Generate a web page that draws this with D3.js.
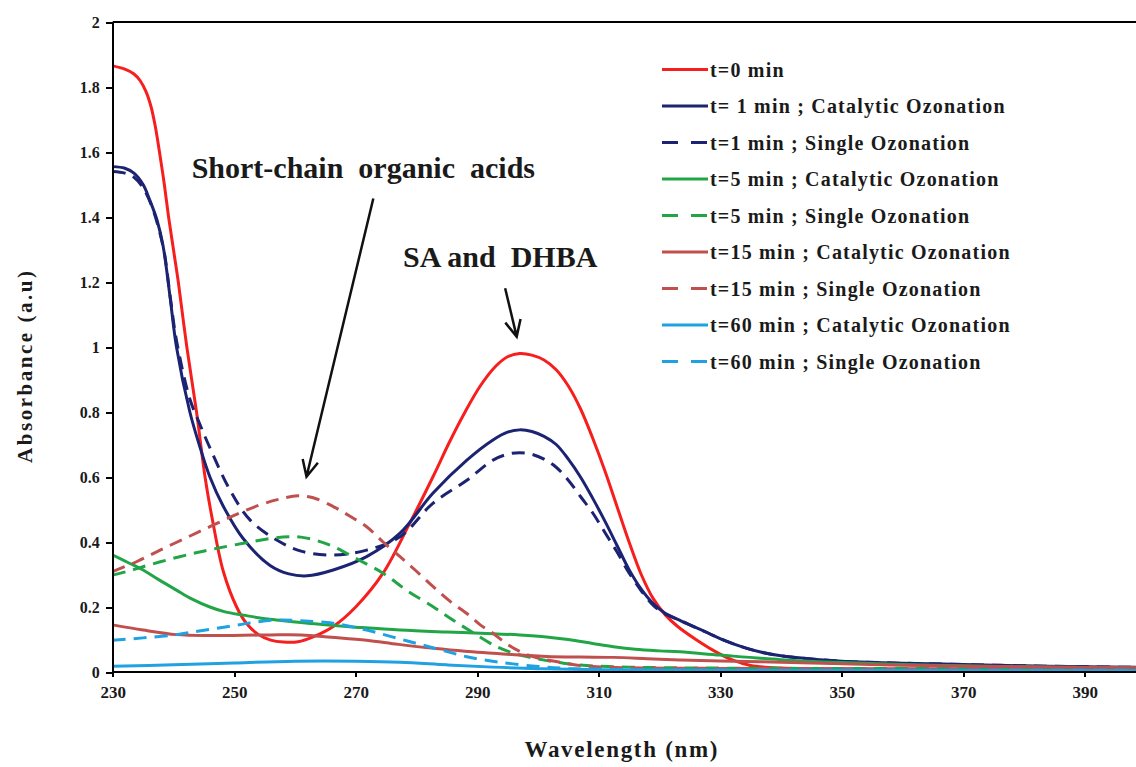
<!DOCTYPE html>
<html>
<head>
<meta charset="utf-8">
<script src="https://d3js.org/d3.v7.min.js"></script>
<style>
body { margin: 0; background: #fff; }
svg text { font-family: "Liberation Serif", "Times New Roman", serif; font-weight: bold; fill: #1a1a1a; }
.axis path, .axis line { stroke: #000; stroke-width: 2; shape-rendering: crispEdges; }
</style>
</head>
<body>
<svg id="chart" width="1136" height="767"></svg>
<script>
// spectra, [wavelength nm, absorbance]
var t0 = [[230,1.865],[232,1.855],[233.5,1.84],[234.5,1.82],[235.5,1.785],[236.3,1.74],[237,1.68],[237.7,1.6],[238.5,1.5],[239.2,1.4],[240,1.3],[240.8,1.2],[242.2,1.0],[243.8,0.8],[245.2,0.6],[246.4,0.47],[248.2,0.31],[250.4,0.2],[252,0.15],[254,0.115],[256,0.098],[258.1,0.092],[260.5,0.093],[263,0.108],[266.3,0.14],[270,0.2],[274.5,0.304],[278.9,0.458],[282.7,0.6],[285.5,0.71],[288,0.8],[290.5,0.88],[293,0.94],[295,0.97],[297,0.98],[299,0.975],[301,0.96],[303,0.93],[305,0.88],[307,0.81],[309,0.72],[311,0.62],[313,0.51],[315,0.4],[317,0.3],[319,0.225],[321,0.175],[323,0.14],[326,0.1],[329,0.065],[332,0.037],[335,0.02],[340,0.012],[360,0.009],[400,0.008]];
var t1Cat = [[230,1.555],[232,1.55],[233.5,1.535],[235,1.5],[236.1,1.452],[237.3,1.39],[238.3,1.31],[239.4,1.16],[240.5,1.0],[242.7,0.8],[244.4,0.69],[246,0.6],[248.2,0.51],[251.5,0.41],[255.9,0.328],[259,0.302],[262,0.296],[266.3,0.314],[271.8,0.355],[277.3,0.427],[282.7,0.55],[288.3,0.652],[292.6,0.714],[295,0.738],[297,0.745],[299,0.74],[301,0.725],[303,0.7],[305,0.655],[307,0.6],[309,0.535],[311,0.465],[313,0.39],[315,0.315],[317,0.255],[319,0.21],[321,0.18],[323,0.162],[325,0.145],[328,0.12],[331,0.095],[334,0.075],[337,0.06],[340,0.05],[345,0.04],[350,0.033],[360,0.027],[370,0.023],[380,0.019],[390,0.016],[400,0.014]];
var t1Single = [[230,1.54],[232,1.535],[233.5,1.522],[235,1.49],[236.5,1.43],[237.5,1.37],[238.5,1.29],[239.5,1.15],[240.5,1.02],[242.7,0.84],[244.4,0.76],[246,0.69],[249.3,0.56],[252.6,0.468],[257,0.406],[261,0.372],[266.3,0.36],[271.8,0.375],[277.3,0.416],[282.7,0.519],[288.3,0.59],[292.6,0.652],[295,0.67],[297,0.675],[299,0.67],[301,0.655],[303,0.63],[305,0.59],[307,0.54],[309,0.49],[311,0.43],[313,0.37],[315,0.305],[317,0.25],[319,0.205],[321,0.178],[323,0.162],[325,0.145],[328,0.12],[331,0.095],[334,0.075],[337,0.06],[340,0.05],[345,0.04],[350,0.033],[360,0.027],[370,0.023],[380,0.019],[390,0.016],[400,0.014]];
var t5Cat = [[230,0.36],[232.5,0.337],[235,0.314],[237.5,0.285],[240.5,0.252],[243,0.225],[246,0.2],[248.5,0.185],[251.5,0.175],[254,0.167],[257,0.16],[261,0.152],[265,0.145],[270,0.138],[277.3,0.129],[285,0.123],[292.6,0.118],[297,0.114],[301.4,0.108],[305,0.1],[309,0.088],[312.4,0.078],[316,0.07],[320,0.065],[323.4,0.062],[330,0.052],[340,0.038],[350,0.029],[360,0.023],[370,0.019],[380,0.016],[390,0.014],[400,0.013]];
var t5Single = [[230,0.298],[232.5,0.31],[235,0.324],[239,0.345],[243.3,0.365],[247,0.38],[251.5,0.396],[255.9,0.411],[259,0.416],[261,0.415],[263.5,0.405],[266.3,0.386],[270,0.35],[274.5,0.304],[278.5,0.25],[282.8,0.2],[286,0.16],[289.4,0.12],[293.2,0.078],[296,0.058],[298.7,0.045],[301.5,0.035],[304.2,0.027],[308,0.02],[315,0.015],[330,0.012],[400,0.01]];
var t15Cat = [[230,0.145],[235,0.129],[240.5,0.115],[246,0.112],[251.5,0.113],[256,0.114],[261,0.114],[266,0.107],[271.8,0.098],[277,0.085],[282.8,0.073],[288,0.064],[292.6,0.058],[297,0.052],[301.4,0.048],[307,0.046],[312.4,0.045],[318,0.041],[323.4,0.037],[330,0.034],[340,0.03],[350,0.025],[360,0.021],[370,0.018],[380,0.016],[390,0.014],[400,0.013]];
var t15Single = [[230,0.309],[234,0.34],[237.8,0.375],[242,0.412],[246,0.447],[250,0.482],[254.2,0.514],[257.5,0.532],[260.5,0.542],[263,0.536],[266.3,0.509],[269,0.48],[271.8,0.447],[274.5,0.4],[277.3,0.355],[280,0.31],[282.8,0.262],[285.5,0.218],[288.3,0.18],[290.5,0.145],[292.6,0.119],[295,0.085],[297.6,0.058],[300,0.043],[303,0.032],[306,0.022],[309.7,0.016],[315,0.013],[330,0.011],[400,0.008]];
var t60Cat = [[230,0.018],[240,0.022],[250,0.028],[260,0.033],[270,0.033],[277.3,0.03],[285,0.022],[292.6,0.015],[300,0.01],[310,0.007],[330,0.005],[400,0.004]];
var t60Single = [[230,0.098],[235,0.105],[240.5,0.115],[244.5,0.127],[248.8,0.139],[253,0.152],[257,0.16],[260.8,0.158],[266.3,0.15],[271.8,0.129],[276,0.108],[280,0.088],[284,0.068],[288.3,0.047],[293.7,0.03],[300,0.017],[305,0.011],[315,0.007],[330,0.006],[400,0.005]];

var seriesNames = ["t=0 min", "t= 1 min ; Catalytic Ozonation", "t=1 min ; Single Ozonation",
  "t=5 min ; Catalytic Ozonation", "t=5 min ; Single Ozonation",
  "t=15 min ; Catalytic Ozonation", "t=15 min ; Single Ozonation",
  "t=60 min ; Catalytic Ozonation", "t=60 min ; Single Ozonation"];
var seriesData = [t0, t1Cat, t1Single, t5Cat, t5Single, t15Cat, t15Single, t60Cat, t60Single];
var xTicks = [230, 250, 270, 290, 310, 330, 350, 370, 390];
var yTicks = [0, 0.2, 0.4, 0.6, 0.8, 1, 1.2, 1.4, 1.6, 1.8, 2];

var colors = ["#f71e1e", "#1b2372", "#1b2372", "#22a546", "#22a546", "#c0504d", "#c0504d", "#1fa2e2", "#1fa2e2"];
var dashed = [false, false, true, false, true, false, true, false, true];

var svg = d3.select("#chart");
var plotLeft = 112.7, plotTop = 22, plotBottom = 672;
var x = d3.scaleLinear().domain([230, 400]).range([plotLeft, plotLeft + 170 * 6.075]);
var y = d3.scaleLinear().domain([0, 2]).range([plotBottom, plotTop]);

svg.append("clipPath").attr("id", "plotclip")
  .append("rect").attr("x", plotLeft).attr("y", plotTop)
  .attr("width", 1136 - plotLeft).attr("height", plotBottom - plotTop);

var line = d3.line()
  .x(function(d) { return x(d[0]); })
  .y(function(d) { return y(d[1]); })
  .curve(d3.curveCatmullRom.alpha(0.5));

svg.append("g").attr("clip-path", "url(#plotclip)")
  .selectAll("path").data(seriesData).enter().append("path")
  .attr("d", line)
  .attr("fill", "none")
  .attr("stroke", function(d, i) { return colors[i]; })
  .attr("stroke-width", 3)
  .attr("stroke-dasharray", function(d, i) { return dashed[i] ? "13,8" : null; });

// axes
var yAxis = svg.append("g").attr("class", "axis")
  .attr("transform", "translate(" + plotLeft + ",0)")
  .call(d3.axisLeft(y).tickValues(yTicks).tickSize(7).tickPadding(6).tickFormat(d3.format("")));
var xAxis = svg.append("g").attr("class", "axis")
  .attr("transform", "translate(0," + plotBottom + ")")
  .call(d3.axisBottom(x).tickValues(xTicks).tickSize(5).tickPadding(9).tickFormat(d3.format("d")));
yAxis.selectAll("text").style("font-size", "16px").attr("fill", "#1a1a1a");
xAxis.selectAll("text").style("font-size", "17px").attr("fill", "#1a1a1a");
yAxis.select(".domain").attr("d", "M0," + plotTop + "V" + plotBottom);
xAxis.select(".domain").attr("d", "M" + plotLeft + ",0H1136");
// top frame line
svg.append("line").attr("x1", plotLeft).attr("x2", 1136).attr("y1", plotTop).attr("y2", plotTop)
  .attr("stroke", "#000").attr("stroke-width", 2);

svg.append("text")
  .attr("transform", "translate(32,367) rotate(-90)")
  .attr("text-anchor", "middle")
  .style("font-size", "21px")
  .attr("textLength", 192)
  .text("Absorbance (a.u)");
svg.append("text")
  .attr("x", 621).attr("y", 757)
  .attr("text-anchor", "middle")
  .style("font-size", "23px")
  .attr("textLength", 193)
  .text("Wavelength (nm)");

// legend
var legend = svg.selectAll(".legend").data(seriesNames).enter().append("g")
  .attr("class", "legend")
  .attr("transform", function(d, i) { return "translate(662," + (69.5 + i * 36.5) + ")"; });
legend.append("line")
  .attr("x1", 0).attr("x2", 46).attr("y1", 0).attr("y2", 0)
  .attr("stroke", function(d, i) { return colors[i]; })
  .attr("stroke-width", 3)
  .attr("stroke-dasharray", function(d, i) { return dashed[i] ? "16,13" : null; });
legend.append("text")
  .attr("x", 48).attr("y", 7)
  .style("font-size", "20px")
  .style("letter-spacing", "1.2px")
  .text(function(d) { return d; });

// annotations
function arrow(x0, y0, x1, y1) {
  var px0 = x(x0), py0 = y(y0), px1 = x(x1), py1 = y(y1);
  var ang = Math.atan2(py1 - py0, px1 - px0), len = 18, spread = 0.45;
  var a1 = [px1 - len * Math.cos(ang - spread), py1 - len * Math.sin(ang - spread)];
  var a2 = [px1 - len * Math.cos(ang + spread), py1 - len * Math.sin(ang + spread)];
  svg.append("path")
    .attr("d", "M" + px0 + "," + py0 + "L" + px1 + "," + py1 + "M" + a1 + "L" + px1 + "," + py1 + "L" + a2)
    .attr("fill", "none").attr("stroke", "#111").attr("stroke-width", 2.5);
}
svg.append("text").attr("x", x(243)).attr("y", y(1.52))
  .style("font-size", "30px").attr("xml:space", "preserve")
  .text("Short-chain  organic  acids");
svg.append("text").attr("x", x(277.8)).attr("y", y(1.247))
  .style("font-size", "30px").attr("xml:space", "preserve")
  .text("SA and  DHBA");
arrow(272.9, 1.457, 261.9, 0.601);
arrow(294.6, 1.181, 296.5, 1.032);
</script>
</body>
</html>
